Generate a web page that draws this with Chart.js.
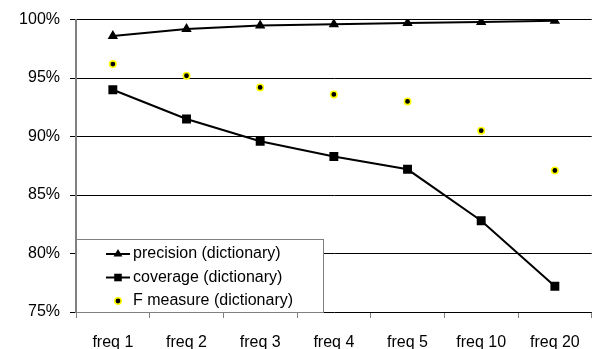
<!DOCTYPE html>
<html>
<head>
<meta charset="utf-8">
<script src="https://cdn.jsdelivr.net/npm/chart.js@4.4.1/dist/chart.umd.min.js"></script>
<style>
  html, body { margin: 0; padding: 0; background: #fff; overflow: hidden; }
  #wrap { position: relative; width: 598px; height: 349px; }
</style>
</head>
<body>
<div id="wrap"><canvas id="c" width="598" height="349"></canvas></div>
<script>
// Frequency thresholds along the x axis
const categories = ['freq 1', 'freq 2', 'freq 3', 'freq 4', 'freq 5', 'freq 10', 'freq 20'];

// Scores in percent
const precision = [98.6, 99.2, 99.5, 99.6, 99.7, 99.8, 99.9];
const coverage  = [94.0, 91.5, 89.6, 88.3, 87.2, 82.8, 77.2];
const fMeasure  = [96.2, 95.2, 94.2, 93.6, 93.0, 90.5, 87.1];

const seriesLabels = ['precision (dictionary)', 'coverage (dictionary)', 'F measure (dictionary)'];
const yTicks = [75, 80, 85, 90, 95, 100];

const FONT = '"Liberation Sans", Arial, sans-serif';

// Boxed legend drawn inside the lower-left corner of the plot area
const insideLegend = {
  id: 'insideLegend',
  afterDatasetsDraw(chart) {
    const ctx = chart.ctx;
    const area = chart.chartArea;
    const x0 = area.left, y1 = area.bottom;
    const w = 248, h = 73;
    const y0 = y1 - h;
    ctx.save();
    ctx.fillStyle = '#fff';
    ctx.fillRect(x0, y0, w, h);
    ctx.strokeStyle = '#808080';
    ctx.lineWidth = 1;
    ctx.strokeRect(x0 + 0.5, y0 + 0.5, w - 1, h);
    ctx.font = '16px ' + FONT;
    ctx.textBaseline = 'middle';
    chart.data.datasets.forEach((ds, i) => {
      const cy = y0 + 15 + i * 23.5;
      const mx = x0 + 42;
      if (ds.showLine !== false) {
        ctx.strokeStyle = '#000';
        ctx.lineWidth = 2;
        ctx.beginPath();
        ctx.moveTo(x0 + 30, cy);
        ctx.lineTo(x0 + 54, cy);
        ctx.stroke();
      }
      ctx.fillStyle = ds.pointBackgroundColor;
      ctx.strokeStyle = ds.pointBorderColor;
      ctx.lineWidth = ds.pointBorderWidth;
      Chart.helpers.drawPoint(ctx, {
        pointStyle: ds.pointStyle,
        radius: ds.pointStyle === 'circle' ? ds.pointRadius : ds.pointRadius * 0.85,
        borderWidth: ds.pointBorderWidth
      }, mx, cy);
      ctx.fillStyle = '#000';
      ctx.fillText(ds.label, x0 + 57, cy);
    });
    ctx.restore();
  }
};

new Chart(document.getElementById('c'), {
  type: 'line',
  data: {
    labels: categories,
    datasets: [
      {
        label: seriesLabels[0], data: precision,
        borderColor: '#000', borderWidth: 2,
        pointStyle: 'triangle', pointRadius: 6,
        pointBackgroundColor: '#000', pointBorderColor: '#000', pointBorderWidth: 0,
        tension: 0
      },
      {
        label: seriesLabels[1], data: coverage,
        borderColor: '#000', borderWidth: 2,
        pointStyle: 'rect', pointRadius: 6.3,
        pointBackgroundColor: '#000', pointBorderColor: '#000', pointBorderWidth: 0,
        tension: 0
      },
      {
        label: seriesLabels[2], data: fMeasure,
        showLine: false,
        pointStyle: 'circle', pointRadius: 3.2,
        pointBackgroundColor: '#000', pointBorderColor: '#ffff00', pointBorderWidth: 1.6
      }
    ]
  },
  options: {
    responsive: false,
    animation: false,
    events: [],
    layout: { padding: { top: 19, right: 0, left: 0, bottom: 0 } },
    plugins: { legend: { display: false }, tooltip: { enabled: false } },
    scales: {
      x: {
        offset: true,
        grid: { offset: true, drawOnChartArea: false, drawTicks: true, tickLength: 6, color: '#808080', lineWidth: 1 },
        border: { display: false },
        ticks: { color: '#000', font: { family: FONT, size: 16 }, padding: 15, maxRotation: 0 },
        afterFit(scale) { scale.height = 37; }
      },
      y: {
        min: 75, max: 100,
        afterBuildTicks(scale) { scale.ticks = yTicks.map(v => ({ value: v })); },
        grid: { color: '#000', lineWidth: 1, drawTicks: true, tickLength: 6 },
        border: { display: true, color: '#808080', width: 2 },
        ticks: {
          color: '#000', font: { family: FONT, size: 16 }, padding: 10,
          callback: v => v + '%'
        },
        afterFit(scale) { scale.width = 76; }
      }
    }
  },
  plugins: [insideLegend]
});
</script>
</body>
</html>
